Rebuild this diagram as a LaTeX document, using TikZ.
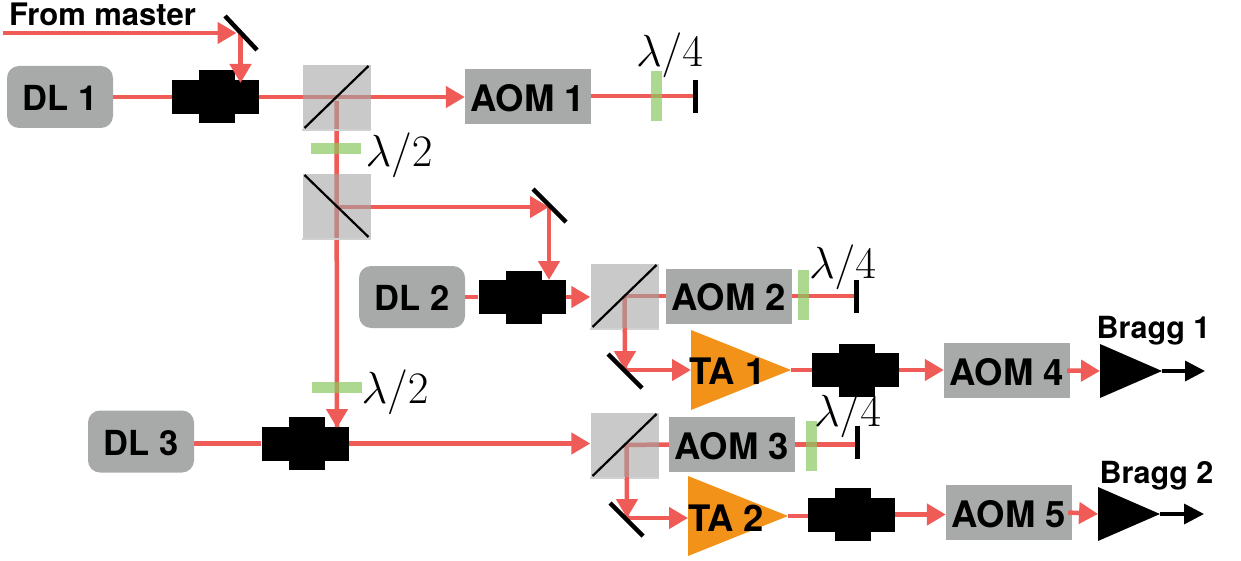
\RequirePackage{fix-cm}
\documentclass[tikz,border=0pt]{standalone}
\usepackage{fontspec}
\setmainfont{TeX Gyre Heros}
\usetikzlibrary{arrows.meta,shapes.geometric}
\pgfdeclarelayer{bg}
\pgfdeclarelayer{fg}
\pgfsetlayers{bg,main,fg}
\definecolor{beamc}{HTML}{EF5B57}
\definecolor{greyc}{HTML}{A7AAA9}
\definecolor{bsc}{HTML}{A3A5A4}
\definecolor{platec}{HTML}{8AC85F}
\definecolor{tac}{HTML}{F39219}
\tikzset{
  lab/.style={font=\bfseries\fontsize{36.5}{36.5}\selectfont,text=black,inner sep=0pt},
  smalllab/.style={font=\bfseries\fontsize{30.5}{30.5}\selectfont,text=black,inner sep=0pt},
  lam/.style={font=\fontsize{45}{45}\selectfont,text=black,inner sep=0pt},
  dl/.style={lab,font=\bfseries\fontsize{34.5}{34.5}\selectfont,text height=27pt,text depth=0pt,fill=greyc,rounded corners=12pt,minimum width=106pt,minimum height=62pt},
  aom/.style={lab,text height=29pt,text depth=0pt,fill=greyc,minimum width=126pt,minimum height=55pt},
  bsbox/.style={fill=bsc,fill opacity=.6,inner sep=0pt,minimum width=68pt,minimum height=64pt},
  bsline/.style={black,line width=2.2pt},
  bsedge/.style={black!18,line width=1.5pt},
  plateh/.style={fill=platec,fill opacity=.7,inner sep=0pt,minimum width=50pt,minimum height=11pt},
  platev/.style={fill=platec,fill opacity=.7,inner sep=0pt,minimum width=11pt,minimum height=50pt},
  isowide/.style={fill=black,inner sep=0pt,minimum width=87pt,minimum height=34pt},
  isotall/.style={fill=black,inner sep=0pt,minimum width=36pt,minimum height=53pt},
  stopper/.style={fill=black,inner sep=0pt,minimum width=5pt,minimum height=33pt},
  beam/.style={beamc,line width=4.5pt},
  abeam/.style={beam,-{Triangle[length=19pt,width=21pt]}},
  mirr/.style={black,line width=4.5pt},
  amp/.style={isosceles triangle,isosceles triangle stretches,shape border rotate=0,inner sep=0pt,outer sep=0pt,anchor=apex,minimum width=80pt,minimum height=100pt,fill=tac},
  braggtri/.style={isosceles triangle,isosceles triangle stretches,shape border rotate=0,inner sep=0pt,outer sep=0pt,anchor=apex,minimum width=54pt,minimum height=62pt,fill=black},
  outarrow/.style={black,line width=3.5pt,-{Triangle[length=20pt,width=20pt]}}
}
\newcommand{\isol}[3]{\node[isowide] (#1) at (#2,#3) {};\node[isotall] (#1t) at (#2+1.5,#3) {};}
\newcommand{\bsplit}[4]{\node[bsbox] (#1) at (#2,#3) {};
  \draw[bsedge] ([yshift=-1pt]#1.south west) -- ([yshift=-1pt]#1.south east);
  \draw[bsline] (#1.center) ++(-32,#4) -- ++(64,-2*#4);}
\begin{document}
\begin{tikzpicture}[x=1pt,y=-1pt]
\useasboundingbox (0,0) rectangle (1241,561);
% row 1
\node[dl] (dl1) at (60,97) {DL 1};
\isol{iso1}{215.5}{97}
\bsplit{bs1}{336.5}{97}{31}
\node[aom] (aom1) at (528,97) {AOM 1};
\node[platev] (qw1) at (656.5,96) {};
\node[stopper] (st1) at (695,96.5) {};
\node[lam] (lq1) at (669.5,55) {$\lambda/4$};
\node[font=\bfseries\fontsize{31}{31}\selectfont,inner sep=0pt] (master) at (102.5,14) {From master};
\coordinate (src) at (3,33);
\coordinate (m1) at (240.5,33);
\coordinate (m1a) at (225,16); \coordinate (m1b) at (257,50);
\coordinate (t1) at (240.5,83);
\node[plateh] (hw1) at (336,148.5) {};
\node[lam] (lh1) at (399,155) {$\lambda/2$};
\bsplit{bs2}{336.5}{206}{-31}
\coordinate (m2) at (549,207);
\coordinate (m2a) at (533,189); \coordinate (m2b) at (566,222);
\coordinate (t2) at (549,280);
% row 2
\node[dl] (dl2) at (412,297) {DL 2};
\isol{iso2}{522}{297}
\bsplit{bs3}{624.5}{296}{31}
\node[aom] (aom2) at (729,296) {AOM 2};
\node[platev] (qw2) at (803,295) {};
\node[stopper] (st2) at (856,296.5) {};
\node[lam] (lq2) at (842.5,267) {$\lambda/4$};
\coordinate (m3) at (625,370);
\coordinate (m3a) at (608,354); \coordinate (m3b) at (642,388);
\node[amp] (ta1) at (791,370) {};
\node[lab] (ta1l) at (727.5,371) {TA 1};
\isol{iso4}{855.5}{370}
\node[aom] (aom4) at (1007,370.5) {AOM 4};
\node[braggtri] (br1) at (1162,371) {};
\coordinate (e1) at (1205,371);
\node[smalllab] (b1l) at (1153.5,331) {Bragg 1};
% row 3
\node[plateh] (hw2) at (337,387) {};
\node[lam] (lh2) at (395,392) {$\lambda/2$};
\node[dl] (dl3) at (141,441.5) {DL 3};
\isol{iso3}{305}{443.5}
\coordinate (t3) at (337,428);
\bsplit{bs4}{624.5}{445}{31}
\node[aom] (aom3) at (732,444.5) {AOM 3};
\node[platev] (qw3) at (811.5,446) {};
\node[stopper] (st3) at (857,442.5) {};
\node[lam] (lq3) at (847.5,415) {$\lambda/4$};
\coordinate (m4) at (627,518);
\coordinate (m4a) at (610,503); \coordinate (m4b) at (643,536);
\node[amp] (ta2) at (788,516) {};
\node[lab] (ta2l) at (726,518) {TA 2};
\isol{iso5}{851.5}{514.5}
\node[aom] (aom5) at (1009,512.5) {AOM 5};
\node[braggtri] (br2) at (1160,514) {};
\coordinate (e2) at (1204,514);
\node[smalllab] (b2l) at (1156.5,476) {Bragg 2};
% beams under the optics
\begin{pgfonlayer}{bg}
\draw[abeam,shorten >=4pt] (src) -- (m1);
\draw[beam] (dl1.east) -- (iso1.west);
\draw[abeam] (iso1.east) -- (aom1.west);
\draw[beam] (aom1.east |- qw1) -- (st1 |- qw1);
\draw[abeam] (bs2.center) ++(0,1) -- (m2);
\draw[beam] (dl2.east) -- (iso2.west);
\draw[abeam] (iso2.east) -- (bs3.west |- iso2.east);
\draw[beam] (bs3.center) -- (aom2.west);
\draw[beam] (aom2.east) -- (st2 |- aom2.east);
\draw[abeam] (m3) -- (ta1.lower side);
\draw[beam] (ta1.apex) -- (iso4.west);
\draw[abeam] (iso4.east) -- (aom4.west |- iso4.east);
\draw[beam] (dl3.east |- iso3) -- (iso3.west);
\draw[abeam] (iso3.east) -- (bs4.west |- iso3.east);
\draw[beam] (bs4.center) -- (aom3.west);
\draw[beam] (aom3.east) -- (st3.center |- aom3.east);
\draw[abeam] (m4) -- (m4 -| ta2.lower side);
\draw[beam] (ta2.apex) -- (iso5.west |- ta2.apex);
\draw[abeam] (iso5.east) -- (aom5.west |- iso5.east);
\draw[beam] (bs1.center) ++(0,4) -- (t3);
\draw[beam] (bs3.center) -- (m3);
\draw[beam] ([xshift=2pt]bs4.center) -- (m4);
\end{pgfonlayer}
% beams over the optics
\begin{pgfonlayer}{fg}
\draw[abeam] (m1) -- (t1);
\draw[abeam] (m2) -- (t2);
\draw[abeam] (337,395) -- (t3);
\draw[abeam] (m3 |- bs3.south) -- (m3);
\draw[abeam] (m4 |- bs4.south) -- (m4);
\draw[mirr] (m1a) -- (m1b);
\draw[mirr] (m2a) -- (m2b);
\draw[mirr] (m3a) -- (m3b);
\draw[mirr] (m4a) -- (m4b);
\draw[abeam] ([xshift=-3pt]aom4.east) -- (br1.lower side);
\draw[abeam] ([xshift=-4pt]aom5.east) -- (br2.lower side);
\draw[outarrow] (br1.apex) -- (e1);
\draw[outarrow] (br2.apex) -- (e2);
\end{pgfonlayer}
\end{tikzpicture}
\end{document}
